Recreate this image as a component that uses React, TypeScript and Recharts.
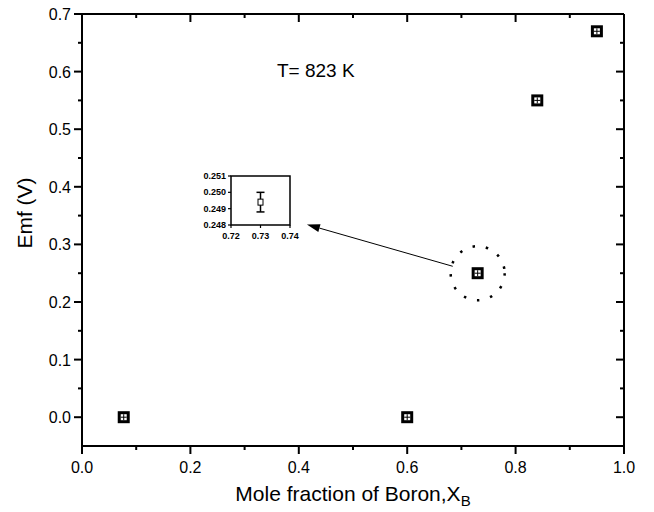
import React from 'react';
import {
  ErrorBar,
  ReferenceArea,
  ReferenceDot,
  ReferenceLine,
  Scatter,
  ScatterChart,
  XAxis,
  YAxis
} from 'recharts';

// main data: mole fraction of boron vs emf
const moleFraction = [0.077, 0.6, 0.73, 0.84, 0.95];
const emf = [0, 0, 0.25, 0.55, 0.67];

// inset (zoom on the x = 0.73 point)
const insetX = [0.73];
const insetY = [0.2494];
const insetErr = [0.0006];

const xMajor = [0, 0.2, 0.4, 0.6, 0.8, 1.0];
const xMinor = [0.1, 0.3, 0.5, 0.7, 0.9];
const yMajor = [0, 0.1, 0.2, 0.3, 0.4, 0.5, 0.6, 0.7];
const yMinor = [0.05, 0.15, 0.25, 0.35, 0.45, 0.55, 0.65];
const insetXTicks = [0.72, 0.73, 0.74];
const insetYTicks = [0.248, 0.249, 0.25, 0.251];

const X_MIN = 0;
const X_MAX = 1;
const Y_MIN = -0.05;
const Y_MAX = 0.7;

const FONT = 'Liberation Sans, Arial, sans-serif';

const points = moleFraction.map((x, i) => ({ x, y: emf[i] }));
const insetPoints = insetX.map((x, i) => ({ x, y: insetY[i], err: insetErr[i] }));

// axis tick labels only; tick marks are drawn by ReferenceDots below
const BottomLabel = (p: any) => (
  <text x={p.x} y={p.y + 27} textAnchor="middle" fontSize={16} fontFamily={FONT} fill="#000">
    {Number(p.payload.value).toFixed(1)}
  </text>
);

const LeftLabel = (p: any) => (
  <text x={p.x - 11} y={p.y + 6} textAnchor="end" fontSize={16} fontFamily={FONT} fill="#000">
    {Number(p.payload.value).toFixed(1)}
  </text>
);

const tickDown = (len: number) => (p: any) => (
  <line x1={p.cx} x2={p.cx} y1={p.cy} y2={p.cy + len} stroke="#000" strokeWidth={2} />
);

const tickLeft = (len: number) => (p: any) => (
  <line x1={p.cx} x2={p.cx - len} y1={p.cy} y2={p.cy} stroke="#000" strokeWidth={2} />
);

const BoxMarker = (p: any) => {
  const { cx, cy } = p;
  return (
    <g>
      <rect x={cx - 4.5} y={cy - 4.5} width={9} height={9} fill="#fff" stroke="#000" strokeWidth={3} />
      <line x1={cx - 3} x2={cx + 3} y1={cy} y2={cy} stroke="#000" strokeWidth={1} />
      <line x1={cx} x2={cx} y1={cy - 3} y2={cy + 3} stroke="#000" strokeWidth={1} />
    </g>
  );
};

const SmallMarker = (p: any) => (
  <rect x={p.cx - 2.5} y={p.cy - 3} width={5} height={6} fill="#fff" stroke="#000" strokeWidth={1} />
);

// inset tick marks + labels, placed through the inset scales
const InsetXTick = (p: any) => (
  <g>
    <line x1={p.cx} x2={p.cx} y1={p.cy} y2={p.cy + 3} stroke="#000" strokeWidth={1.2} />
    <text x={p.cx} y={p.cy + 14} textAnchor="middle" fontSize={9} fontWeight="bold" fontFamily={FONT} fill="#000">
      {Number(p.x).toFixed(2)}
    </text>
  </g>
);

const InsetYTick = (p: any) => (
  <g>
    <line x1={p.cx} x2={p.cx - 3} y1={p.cy} y2={p.cy} stroke="#000" strokeWidth={1.2} />
    <text x={p.cx - 5} y={p.cy + 3} textAnchor="end" fontSize={9} fontWeight="bold" fontFamily={FONT} fill="#000">
      {Number(p.y).toFixed(3)}
    </text>
  </g>
);

const Arrow = (p: any) => {
  const { x1, y1, x2, y2 } = p;
  const ang = Math.atan2(y2 - y1, x2 - x1);
  const len = 13;
  const hw = 4;
  const bx = x2 - len * Math.cos(ang);
  const by = y2 - len * Math.sin(ang);
  const nx = -Math.sin(ang) * hw;
  const ny = Math.cos(ang) * hw;
  return (
    <g>
      <line x1={x1} y1={y1} x2={bx} y2={by} stroke="#000" strokeWidth={1} />
      <polygon points={`${x2},${y2} ${bx + nx},${by + ny} ${bx - nx},${by - ny}`} fill="#000" />
    </g>
  );
};

const frame = { stroke: '#000', strokeWidth: 2 };

const App = () => {
  return (
    <div style={{ position: 'absolute', left: 0, top: 0 }}>
      <ScatterChart width={654} height={512} margin={{ top: 14, right: 30, bottom: 0, left: 20 }}>
        <XAxis
          xAxisId="b"
          dataKey="x"
          type="number"
          domain={[X_MIN, X_MAX]}
          ticks={xMajor}
          height={66}
          tickSize={0}
          tickMargin={0}
          tick={<BottomLabel />}
          axisLine={frame}
          label={{
            content: () => (
              <text x={353} y={501} textAnchor="middle" fontSize={21} fontFamily={FONT} fill="#000">
                Mole fraction of Boron,X
                <tspan dy={5} fontSize={15}>B</tspan>
              </text>
            )
          }}
        />
        <YAxis
          yAxisId="l"
          dataKey="y"
          type="number"
          domain={[Y_MIN, Y_MAX]}
          ticks={yMajor}
          width={62}
          tickSize={0}
          tickMargin={0}
          tick={<LeftLabel />}
          axisLine={frame}
          label={{
            content: () => (
              <text
                x={32}
                y={213}
                transform="rotate(-90 32 213)"
                textAnchor="middle"
                fontSize={21}
                fontFamily={FONT}
                fill="#000"
              >
                Emf (V)
              </text>
            )
          }}
        />
        {/* inset axes, hidden, squeezed into the inset box by padding */}
        <XAxis
          xAxisId="ix"
          orientation="top"
          dataKey="x"
          type="number"
          domain={[0.72, 0.74]}
          padding={{ left: 149, right: 334 }}
          hide
        />
        <YAxis
          yAxisId="iy"
          orientation="right"
          dataKey="y"
          type="number"
          domain={[0.248, 0.251]}
          padding={{ top: 162, bottom: 221 }}
          hide
        />

        {/* frame edges */}
        <ReferenceLine xAxisId="b" yAxisId="l" segment={[{ x: X_MIN, y: Y_MIN }, { x: X_MAX, y: Y_MIN }]} stroke="#000" strokeWidth={2} />
        <ReferenceLine xAxisId="b" yAxisId="l" segment={[{ x: X_MIN, y: Y_MAX }, { x: X_MAX, y: Y_MAX }]} stroke="#000" strokeWidth={2} />
        <ReferenceLine xAxisId="b" yAxisId="l" segment={[{ x: X_MIN, y: Y_MIN }, { x: X_MIN, y: Y_MAX }]} stroke="#000" strokeWidth={2} />
        <ReferenceLine xAxisId="b" yAxisId="l" segment={[{ x: X_MAX, y: Y_MIN }, { x: X_MAX, y: Y_MAX }]} stroke="#000" strokeWidth={2} />

        {/* tick marks: outward on bottom/left, inward on top/right */}
        {xMajor.map((v) => (
          <ReferenceDot key={`bM${v}`} xAxisId="b" yAxisId="l" x={v} y={Y_MIN} shape={tickDown(8)} />
        ))}
        {xMinor.map((v) => (
          <ReferenceDot key={`bm${v}`} xAxisId="b" yAxisId="l" x={v} y={Y_MIN} shape={tickDown(4)} />
        ))}
        {xMajor.map((v) => (
          <ReferenceDot key={`tM${v}`} xAxisId="b" yAxisId="l" x={v} y={Y_MAX} shape={tickDown(8)} />
        ))}
        {xMinor.map((v) => (
          <ReferenceDot key={`tm${v}`} xAxisId="b" yAxisId="l" x={v} y={Y_MAX} shape={tickDown(4)} />
        ))}
        {yMajor.map((v) => (
          <ReferenceDot key={`lM${v}`} xAxisId="b" yAxisId="l" x={X_MIN} y={v} shape={tickLeft(8)} />
        ))}
        {yMinor.map((v) => (
          <ReferenceDot key={`lm${v}`} xAxisId="b" yAxisId="l" x={X_MIN} y={v} shape={tickLeft(4)} />
        ))}
        {yMajor.map((v) => (
          <ReferenceDot key={`rM${v}`} xAxisId="b" yAxisId="l" x={X_MAX} y={v} shape={tickLeft(8)} />
        ))}
        {yMinor.map((v) => (
          <ReferenceDot key={`rm${v}`} xAxisId="b" yAxisId="l" x={X_MAX} y={v} shape={tickLeft(4)} />
        ))}

        <ReferenceDot
          xAxisId="b"
          yAxisId="l"
          x={0.73}
          y={0.25}
          r={27}
          fill="none"
          stroke="#000"
          strokeWidth={2.5}
          strokeDasharray="2.5 11"
          label={{
            content: () => (
              <text x={277} y={77} fontSize={19} fontFamily={FONT} fill="#000">
                T= 823 K
              </text>
            )
          }}
        />
        <ReferenceLine
          xAxisId="b"
          yAxisId="l"
          segment={[{ x: 0.684, y: 0.262 }, { x: 0.415, y: 0.3345 }]}
          shape={Arrow}
        />
        <Scatter xAxisId="b" yAxisId="l" data={points} shape={BoxMarker} isAnimationActive={false} />

        {/* inset */}
        <ReferenceArea
          xAxisId="ix"
          yAxisId="iy"
          x1={0.72}
          x2={0.74}
          y1={0.248}
          y2={0.251}
          fill="#fff"
          fillOpacity={1}
          stroke="#000"
          strokeWidth={1.5}
        />
        {insetXTicks.map((v) => (
          <ReferenceDot key={`ix${v}`} xAxisId="ix" yAxisId="iy" x={v} y={0.248} shape={InsetXTick} />
        ))}
        {insetYTicks.map((v) => (
          <ReferenceDot key={`iy${v}`} xAxisId="ix" yAxisId="iy" x={0.72} y={v} shape={InsetYTick} />
        ))}
        <Scatter xAxisId="ix" yAxisId="iy" data={insetPoints} shape={SmallMarker} isAnimationActive={false}>
          <ErrorBar dataKey="err" direction="y" width={4} stroke="#000" strokeWidth={1.5} />
        </Scatter>
      </ScatterChart>
    </div>
  );
};

export default App;
